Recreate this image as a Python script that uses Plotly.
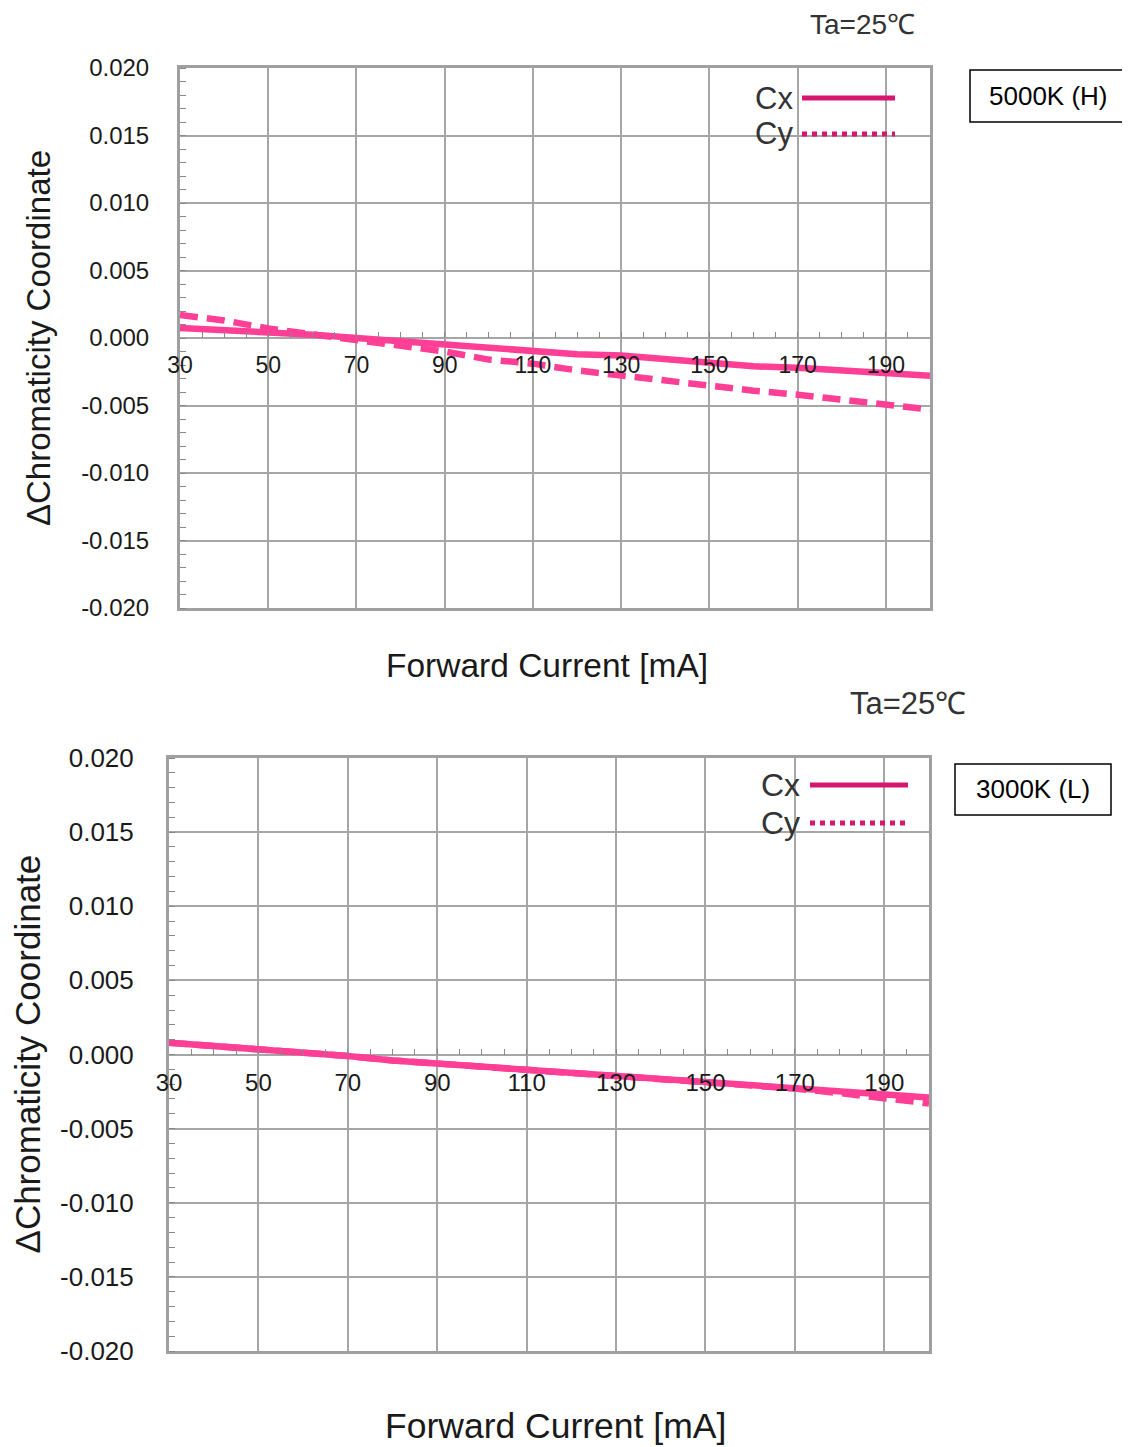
import plotly.graph_objects as go

# the page body adds an 8 px offset, so the figure is drawn 8 px smaller
OFF = 8
W, H = 1130 - OFF, 1447 - OFF

# ---------------- data ----------------
current = [30, 40, 50, 60, 70, 80, 90, 100, 110, 120, 130, 140, 150, 160, 170, 180, 190, 200]

h_cx = [0.00075, 0.0006, 0.0005, 0.00025, 0.0, -0.00025, -0.0005, -0.00075, -0.001, -0.0012,
        -0.0013, -0.0016, -0.0019, -0.0021, -0.0022, -0.0024, -0.0026, -0.0028]
h_cy = [0.0017, 0.0013, 0.0007, 0.0003, -0.0001, -0.0006, -0.001, -0.0016, -0.0019, -0.0024,
        -0.0028, -0.0031, -0.0035, -0.0039, -0.0042, -0.0046, -0.005, -0.0053]

l_cx = [0.0008, 0.0006, 0.0004, 0.0001, -0.0001, -0.0004, -0.0006, -0.0008, -0.001, -0.0012,
        -0.0014, -0.0016, -0.0019, -0.0021, -0.0023, -0.0025, -0.0027, -0.0029]
l_cy = [0.0008, 0.0006, 0.0004, 0.0001, -0.0001, -0.0004, -0.0006, -0.0008, -0.001, -0.0012,
        -0.0014, -0.0017, -0.0019, -0.0021, -0.0023, -0.0026, -0.0029, -0.0033]

x_ticks = [30, 50, 70, 90, 110, 130, 150, 170, 190]
y_ticks = [0.020, 0.015, 0.010, 0.005, 0.000, -0.005, -0.010, -0.015, -0.020]
y_ticktext = ["0.020", "0.015", "0.010", "0.005", "0.000", "-0.005", "-0.010", "-0.015", "-0.020"]

panels = [
    dict(name="5000K (H)", cx=h_cx, cy=h_cy),
    dict(name="3000K (L)", cx=l_cx, cy=l_cy),
]

# ---------------- style ----------------
LINE_COL = "#FF3E96"
LEG_COL = "#D5186F"
GRID = "#A6A6A6"
FRAME = "#A0A0A0"
FONT = "Liberation Sans, Arial, sans-serif"
TXT = "#1a1a1a"


def px_x(p):
    return (p - OFF) / W


def px_y(p):
    return 1 - (p - OFF) / H


# panel geometry (screen pixels)
geo = [
    dict(l=180, r=930, t=68, b=608, xt=547, xty=665, xt_fs=33.5, yt=38, yt_fs=33,
         tax=862, tay=8, ta_anchor="top", ta_fs=28, box=(970, 1127, 70, 122), box_fs=26,
         leg=(795, 802, 895, 98, 134), leg_fs=31, tick_fs=24, ystand=23, xtick_fs=23),
    dict(l=169, r=929, t=758, b=1351, xt=555, xty=1426, xt_fs=35.5, yt=27, yt_fs=35,
         tax=908, tay=703, ta_anchor="middle", ta_fs=31, box=(955, 1111, 764, 815), box_fs=26,
         leg=(802, 810, 908, 785, 823), leg_fs=32, tick_fs=26, ystand=27, xtick_fs=24),
]

fig = go.Figure()
layout = dict(width=W, height=H, margin=dict(l=0, r=0, t=0, b=0, autoexpand=False),
              paper_bgcolor="white", plot_bgcolor="white", showlegend=False,
              font=dict(family=FONT, color=TXT))
annotations = []
shapes = []

for i, (p, g) in enumerate(zip(panels, geo)):
    n = 2 * i + 1
    xa = "x" if n == 1 else f"x{n}"
    ya = "y" if n == 1 else f"y{n}"
    xk = "xaxis" if n == 1 else f"xaxis{n}"
    yk = "yaxis" if n == 1 else f"yaxis{n}"
    lab_k = f"xaxis{n + 1}"
    xdom = [px_x(g["l"]), px_x(g["r"])]
    ydom = [px_y(g["b"]), px_y(g["t"])]

    fig.add_trace(go.Scatter(x=current, y=p["cx"], mode="lines", xaxis=xa, yaxis=ya,
                             line=dict(color=LINE_COL, width=6.5), name="Cx"))
    fig.add_trace(go.Scatter(x=current, y=p["cy"], mode="lines", xaxis=xa, yaxis=ya,
                             line=dict(color=LINE_COL, width=6.5, dash="18px,9px"), name="Cy"))

    layout[xk] = dict(domain=xdom, range=[30, 200], anchor=ya, showticklabels=False,
                      automargin=False,
                      tickvals=x_ticks, ticks="", showgrid=True, gridcolor=GRID, gridwidth=1.5,
                      showline=True, linecolor=FRAME, linewidth=3, mirror=True, zeroline=False)
    layout[yk] = dict(domain=ydom, range=[-0.02, 0.02], anchor=xa, tickvals=y_ticks,
                      automargin=False,
                      ticktext=y_ticktext, showgrid=True, gridcolor=GRID, gridwidth=1.5,
                      showline=True, linecolor=FRAME, linewidth=3, mirror=True, zeroline=False,
                      ticks="", ticklabelstandoff=g["ystand"],
                      tickfont=dict(size=g["tick_fs"], family=FONT, color=TXT),
                      minor=dict(dtick=0.001, ticks="inside", ticklen=6, tickcolor="#888",
                                 tickwidth=1, showgrid=False))
    # x tick labels sitting on the zero line
    layout[lab_k] = dict(overlaying=xa, anchor="free", position=(ydom[0] + ydom[1]) / 2,
                         automargin=False,
                         domain=xdom, range=[30, 200], tickvals=x_ticks, showgrid=False,
                         showline=False, zeroline=False, ticks="inside", ticklen=6,
                         tickcolor="#888", tickwidth=1, ticklabelstandoff=11,
                         tickfont=dict(size=g["xtick_fs"], family=FONT, color=TXT),
                         minor=dict(dtick=5, tick0=30, ticks="inside", ticklen=6,
                                    tickcolor="#888", tickwidth=1, showgrid=False))
    # invisible trace to activate the label axis
    fig.add_trace(go.Scatter(x=[current[0]], y=[p["cx"][0]], mode="markers",
                             xaxis=f"x{n + 1}", yaxis=ya, marker=dict(opacity=0),
                             hoverinfo="skip"))

    # axis titles
    annotations.append(dict(text="Forward Current [mA]", x=px_x(g["xt"]), y=px_y(g["xty"]),
                            xref="paper", yref="paper", showarrow=False,
                            xanchor="center", yanchor="middle",
                            font=dict(size=g["xt_fs"], family=FONT, color=TXT)))
    annotations.append(dict(text="ΔChromaticity Coordinate", x=px_x(g["yt"]),
                            y=(ydom[0] + ydom[1]) / 2, xref="paper", yref="paper",
                            showarrow=False, textangle=-90, xanchor="center", yanchor="middle",
                            font=dict(size=g["yt_fs"], family=FONT, color=TXT)))
    annotations.append(dict(text="Ta=25℃", x=px_x(g["tax"]), y=px_y(g["tay"]),
                            xref="paper", yref="paper", showarrow=False, borderpad=0,
                            xanchor="center", yanchor=g["ta_anchor"],
                            font=dict(size=g["ta_fs"], family=FONT, color="#333")))
    bx0, bx1, by0, by1 = g["box"]
    shapes.append(dict(type="rect", xref="paper", yref="paper",
                       x0=px_x(bx0), x1=px_x(bx1), y0=px_y(by1), y1=px_y(by0),
                       line=dict(color="black", width=1.5), fillcolor="white"))
    annotations.append(dict(text=p["name"], x=px_x((bx0 + bx1) / 2), y=px_y((by0 + by1) / 2),
                            xref="paper", yref="paper", showarrow=False,
                            xanchor="center", yanchor="middle",
                            font=dict(size=g["box_fs"], family=FONT, color="black")))
    # legend (text left of line sample)
    tx, lx0, lx1, ly1, ly2 = g["leg"]
    for lbl, ly, dash in (("Cx", ly1, "solid"), ("Cy", ly2, "dot")):
        annotations.append(dict(text=lbl, x=px_x(tx), y=px_y(ly), xref="paper", yref="paper",
                                xanchor="right", yanchor="middle", showarrow=False,
                                font=dict(size=g["leg_fs"], family=FONT, color="#333")))
        shapes.append(dict(type="line", xref="paper", yref="paper",
                           x0=px_x(lx0), x1=px_x(lx1), y0=px_y(ly), y1=px_y(ly),
                           line=dict(color=LEG_COL, width=5, dash=dash)))

layout["annotations"] = annotations
layout["shapes"] = shapes
fig.update_layout(**layout)
fig.write_html("out.html")
